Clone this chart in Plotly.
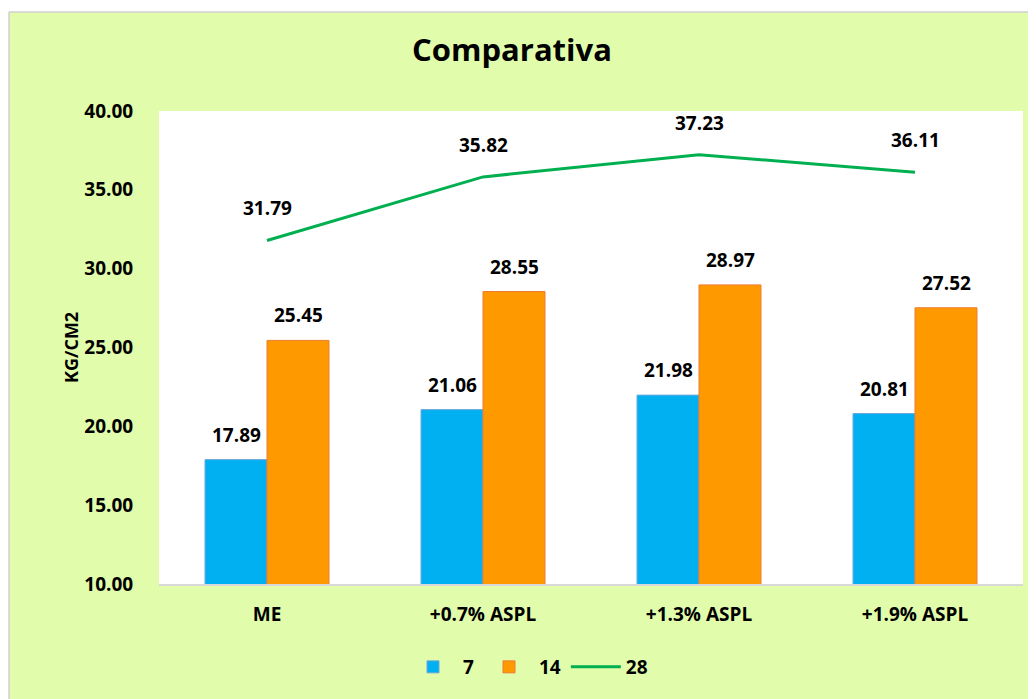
import plotly.graph_objects as go

categories = ["ME", "+0.7% ASPL", "+1.3% ASPL", "+1.9% ASPL"]
series_names = ["7", "14", "28"]
values_7 = [17.89, 21.06, 21.98, 20.81]
values_14 = [25.45, 28.55, 28.97, 27.52]
values_28 = [31.79, 35.82, 37.23, 36.11]
y_ticks = [10, 15, 20, 25, 30, 35, 40]

BG = "#e1fcab"
FONT = "'Open Sans', sans-serif"
OFF = 8  # page body margin
W, H = 1036 - OFF, 699 - OFF
L, T = 159 - OFF, 111 - OFF
R = W - (1023 - OFF)
B = H - (584 - OFF)
pw, ph = W - L - R, H - T - B


def px_x(xr):  # reference pixel -> paper x
    return (xr - OFF - L) / pw


def px_y(yr):  # reference pixel -> paper y
    return (H - B - (yr - OFF)) / ph


bold = lambda s: dict(size=s, color="black", family=FONT, weight="bold")

fig = go.Figure()
fig.add_trace(go.Bar(x=categories, y=values_7, name=series_names[0],
                     marker=dict(color="#00b0f0", line=dict(color="#6fa8dc", width=1))))
fig.add_trace(go.Bar(x=categories, y=values_14, name=series_names[1],
                     marker=dict(color="#ff9900", line=dict(color="#ed7d31", width=1))))
fig.add_trace(go.Scatter(x=categories, y=values_28, name=series_names[2], mode="lines",
                         line=dict(color="#00b050", width=3)))

ann = []
for c, v in zip(categories, values_7):
    ann.append(dict(x=c, y=v, xref="x", yref="y", text=f"{v:.2f}", showarrow=False,
                    xshift=-31, yshift=25, font=bold(19)))
for c, v in zip(categories, values_14):
    ann.append(dict(x=c, y=v, xref="x", yref="y", text=f"{v:.2f}", showarrow=False,
                    xshift=31, yshift=25, font=bold(19)))
for c, v in zip(categories, values_28):
    ann.append(dict(x=c, y=v, xref="x", yref="y", text=f"{v:.2f}", showarrow=False,
                    yshift=32, font=bold(19)))
ann.append(dict(x=px_x(57), y=px_y(348), xref="paper", yref="paper", text="KG/CM2",
                textangle=-90, showarrow=False, font=bold(18)))

gx0, gy0 = px_x(9), px_y(12)
shapes = [
    dict(type="rect", xref="paper", yref="paper", x0=-1, x1=2, y0=gy0, y1=2,
         fillcolor="white", line=dict(width=0), layer="below"),
    dict(type="rect", xref="paper", yref="paper", x0=-1, x1=gx0, y0=-1, y1=2,
         fillcolor="white", line=dict(width=0), layer="below"),
    dict(type="line", xref="paper", yref="paper", x0=gx0, x1=2, y0=gy0, y1=gy0,
         line=dict(color="#d0d0d0", width=1.5)),
    dict(type="line", xref="paper", yref="paper", x0=gx0, x1=gx0, y0=-1, y1=gy0,
         line=dict(color="#d0d0d0", width=1.5)),
]

fig.update_layout(
    width=W, height=H,
    margin=dict(l=L, r=R, t=T, b=B),
    paper_bgcolor=BG, plot_bgcolor="white",
    barmode="group", bargap=0.426, bargroupgap=0,
    font=dict(family=FONT, color="black"),
    title=dict(text="Comparativa", x=(512 - OFF) / W, xref="container", xanchor="center",
               y=1 - (50 - OFF) / H, yref="container", yanchor="middle", font=bold(31)),
    xaxis=dict(showline=True, linecolor="#d9d9d9", linewidth=2, showgrid=False,
               ticks="outside", ticklen=12, tickcolor="rgba(0,0,0,0)", tickfont=bold(19)),
    yaxis=dict(range=[10, 40], tickvals=y_ticks, tickformat=".2f", showgrid=False, zeroline=False,
               showline=False, ticks="outside", ticklen=21, tickcolor="rgba(0,0,0,0)",
               tickfont=bold(19)),
    legend=dict(orientation="h", x=px_x(528), xanchor="center", y=px_y(667),
                yanchor="middle", bgcolor="rgba(0,0,0,0)", font=bold(19), itemwidth=50),
    annotations=ann, shapes=shapes,
)

fig.write_html("out.html")
